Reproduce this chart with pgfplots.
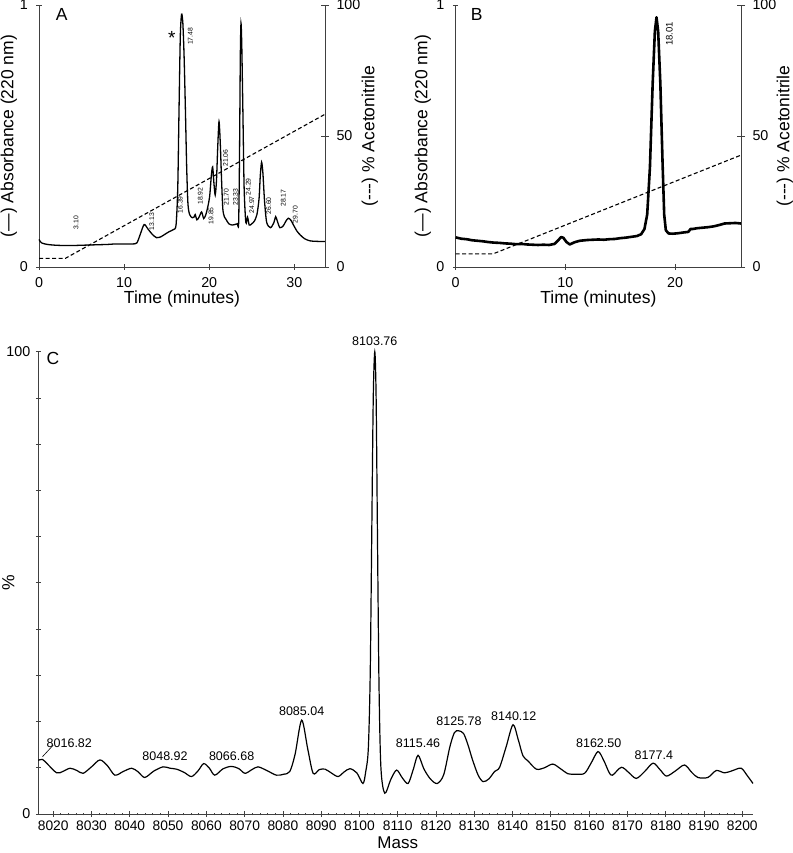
\documentclass[border=0pt]{standalone}
\usepackage{pgfplots}
\pgfplotsset{compat=1.18}
\usepackage{fontspec}
\setmainfont{Liberation Sans}
\pgfplotsset{
  mystyle/.style={scale only axis, clip=false, enlargelimits=false,
    tick align=inside, tick style={black!75, line width=0.8pt},
    major tick length=5.5pt, minor tick length=2.7pt,
    tick label style={font=\fontsize{14.3}{15}\selectfont},
    /pgf/number format/assume math mode=true},
  nolinearrows/.style={axis line style={-, line width=0.8pt, black!75},
    every outer x axis line/.append style={-}, every outer y axis line/.append style={-},
    every inner x axis line/.append style={-}, every inner y axis line/.append style={-}},
}
\newcommand{\lab}{\fontsize{17.5}{19}\selectfont}
\begin{document}
\begin{tikzpicture}
\useasboundingbox (0pt,0pt) rectangle (792pt,853pt);
% ---------------- Panel A ----------------
\begin{axis}[mystyle, at={(39pt,586pt)}, anchor=south west, width=286pt, height=262pt,
  xmin=0, xmax=33.6, ymin=0, ymax=1, axis x line=bottom, axis y line=left, nolinearrows,
  xtick={0,10,20,30}, ytick={0,1},
  xticklabel style={yshift=-4pt}, yticklabel style={xshift=-5pt}]
\addplot[black, line width=1.3pt, smooth, tension=0.45] coordinates {
(0,0.105) (0.3,0.092) (1,0.086) (2,0.083) (3,0.082) (4,0.082) (5,0.083) (6,0.084) (7,0.085) (8,0.086) (9,0.088) (10,0.088) (11,0.088)
(11.5,0.092) (11.9,0.125) (12.35,0.162) (12.8,0.145) (13.3,0.125) (13.8,0.112) (14.3,0.115) (14.8,0.125) (15.3,0.135) (15.8,0.143) (16.1,0.16)
(16.3,0.3) (16.45,0.6) (16.6,0.88) (16.75,0.965) (16.9,0.93) (17.05,0.8) (17.2,0.6) (17.35,0.38) (17.5,0.24) (17.7,0.2)
(18.0,0.188) (18.2,0.19) (18.35,0.2) (18.55,0.18) (18.8,0.19) (19.1,0.21) (19.35,0.185) (19.6,0.2) (19.8,0.225) (20.05,0.27)
(20.25,0.35) (20.4,0.382) (20.55,0.32) (20.7,0.275) (20.85,0.33) (21.0,0.46) (21.15,0.555) (21.3,0.47) (21.45,0.33) (21.6,0.22)
(21.8,0.19) (22.0,0.18) (22.3,0.165) (22.7,0.16) (23.0,0.162) (23.3,0.165) (23.45,0.165) (23.55,0.4) (23.65,0.8) (23.73,0.93)
(23.82,0.85) (23.95,0.6) (24.1,0.3) (24.3,0.17) (24.5,0.19) (24.7,0.16) (25.0,0.165) (25.3,0.175) (25.6,0.2) (25.85,0.26)
(26.0,0.35) (26.15,0.4) (26.3,0.36) (26.5,0.25) (26.75,0.17) (27.2,0.15) (27.6,0.17) (27.8,0.192) (28.0,0.175) (28.3,0.15)
(28.7,0.157) (29.0,0.175) (29.3,0.186) (29.6,0.178) (29.9,0.16) (30.3,0.137) (30.7,0.122) (31.2,0.108) (31.8,0.1) (32.5,0.098) (33.6,0.097)};
\node[font=\fontsize{17.5}{18}\selectfont] at (axis cs:2.67,0.962) {A};
\node[font=\fontsize{19}{19}\selectfont] at (axis cs:15.6,0.875) {*};
\begin{scope}[every node/.style={rotate=90, font=\fontsize{6.8}{7}\selectfont, inner sep=0pt}]
\node at (axis cs:4.35,0.17) {3.10};
\node at (axis cs:13.25,0.173) {13.13};
\node at (axis cs:16.6,0.237) {16.39};
\node at (axis cs:17.76,0.88) {17.48};
\node at (axis cs:18.94,0.27) {18.92};
\node at (axis cs:20.2,0.195) {19.85};
\node at (axis cs:21.9,0.416) {21.06};
\node at (axis cs:22.0,0.267) {21.70};
\node at (axis cs:23.1,0.267) {23.33};
\node at (axis cs:24.6,0.306) {24.29};
\node at (axis cs:25.0,0.237) {24.97};
\node at (axis cs:27.0,0.233) {26.60};
\node at (axis cs:28.7,0.263) {28.17};
\node at (axis cs:30.1,0.2) {29.70};
\end{scope}
\node[rotate=90, font=\lab] at (axis description cs:-0.105,0.5) {(—) Absorbance (220 nm)};
\node[font=\lab] at (axis description cs:0.5,-0.122) {Time (minutes)};
\end{axis}
\begin{axis}[mystyle, at={(39pt,586pt)}, anchor=south west, width=286pt, height=262pt,
  xmin=0, xmax=33.6, ymin=0, ymax=100, axis x line=none, axis y line=right, nolinearrows,
  ytick={0,50,100}, major tick length=8pt, yticklabel style={xshift=4pt}]
\addplot[black, line width=1.1pt, dash pattern=on 4pt off 2.5pt] coordinates {(0,3.3) (3.1,3.3) (33.6,58.3)};
\node[rotate=90, font=\lab] at (axis description cs:1.157,0.5) {(-{}-{}-) \% Acetonitrile};
\end{axis}
% ---------------- Panel B ----------------
\begin{axis}[mystyle, at={(455.7pt,586pt)}, anchor=south west, width=285.3pt, height=262pt,
  xmin=0, xmax=26, ymin=0, ymax=1, axis x line=bottom, axis y line=left, nolinearrows,
  xtick={0,10,20}, ytick={0,1},
  xticklabel style={yshift=-4pt}, yticklabel style={xshift=-5pt}]
\addplot[black, line width=2.6pt, line join=round] coordinates {
(0,0.113) (0.5,0.108) (1,0.106) (1.5,0.102) (2,0.1) (2.5,0.098) (3,0.095) (3.5,0.093) (4,0.092) (4.5,0.09) (5,0.089) (5.5,0.087)
(6,0.088) (6.5,0.086) (7,0.085) (7.5,0.084) (8,0.085) (8.5,0.084) (9,0.088) (9.3,0.1) (9.6,0.114) (9.8,0.112) (10.1,0.095) (10.4,0.086)
(10.8,0.094) (11.3,0.1) (12,0.103) (12.5,0.104) (13,0.105) (13.5,0.104) (14,0.106) (14.5,0.107) (15,0.11) (15.5,0.112) (16,0.115)
(16.5,0.118) (16.9,0.125) (17.2,0.145) (17.45,0.2) (17.7,0.38) (17.95,0.7) (18.15,0.9) (18.3,0.953) (18.45,0.9) (18.65,0.7)
(18.85,0.4) (19.0,0.2) (19.15,0.14) (19.4,0.128) (19.8,0.127) (20.3,0.129) (20.8,0.132) (21.2,0.134) (21.4,0.145) (21.6,0.145)
(22,0.148) (22.5,0.15) (23,0.152) (23.5,0.155) (24,0.16) (24.5,0.166) (25,0.167) (25.5,0.168) (26,0.166)};
\node[font=\fontsize{17.5}{18}\selectfont] at (axis cs:1.91,0.962) {B};
\node[rotate=90, font=\fontsize{9.5}{10}\selectfont] at (axis cs:19.47,0.89) {18.01};
\node[rotate=90, font=\lab] at (axis description cs:-0.115,0.5) {(—) Absorbance (220 nm)};
\node[font=\lab] at (axis description cs:0.5,-0.122) {Time (minutes)};
\end{axis}
\begin{axis}[mystyle, at={(455.7pt,586pt)}, anchor=south west, width=285.3pt, height=262pt,
  xmin=0, xmax=26, ymin=0, ymax=100, axis x line=none, axis y line=right, nolinearrows,
  ytick={0,50,100}, major tick length=8pt, yticklabel style={xshift=4pt}]
\addplot[black, line width=1.1pt, dash pattern=on 4pt off 2.5pt] coordinates {(0,5) (3.4,5) (26,42.7)};
\node[rotate=90, font=\lab] at (axis description cs:1.154,0.5) {(-{}-{}-) \% Acetonitrile};
\end{axis}
% ---------------- Panel C ----------------
\begin{axis}[mystyle, at={(38.3pt,39pt)}, anchor=south west, width=714.7pt, height=462.3pt,
  xmin=8016.1, xmax=8202.8, ymin=0, ymax=100, axis x line=bottom, axis y line=left, nolinearrows,
  xtick={8020,8030,...,8200}, minor x tick num=4,
  ytick={0,10,...,100}, yticklabels={0,,,,,,,,,,100},
  major tick length=5pt, minor tick length=2.6pt,
  xticklabel style={yshift=-1pt, font=\fontsize{13.8}{14}\selectfont, /pgf/number format/1000 sep={}},
  yticklabel style={xshift=-2pt}]
\addplot[black, line width=1.2pt, smooth, tension=0.5] coordinates {
(8016.1,11.6) (8017.2,11.8) (8018.5,10.8) (8020.9,8.9) (8022.5,9.2) (8024.4,9.9) (8026.2,9.4) (8027.8,8.8) (8030,10.2) (8032.2,11.7)
(8034.2,10.4) (8036.1,8.4) (8038.3,9.2) (8040.5,9.9) (8042.2,9.1) (8043.9,7.9) (8046.3,9.3) (8048.7,10.2) (8050.5,9.9) (8052.2,9.7)
(8054.2,9.0) (8056.1,8.1) (8057.8,9.3) (8059.3,10.9) (8060.8,9.9) (8062.2,8.4) (8064.4,9.8) (8066.6,10.3) (8068.5,9.8) (8070.1,8.8)
(8071.9,9.6) (8073.5,10.2) (8075.8,9.4) (8078.3,8.4) (8080.2,8.6) (8081.8,9.2) (8083.2,13) (8084.9,20.3) (8086.5,14) (8087.9,8.8)
(8089.5,9.6) (8091.0,9.7) (8092.6,8.9) (8094.4,8.1) (8096,9.1) (8097.5,9.8) (8099.3,8.9) (8100.9,6.6) (8101.6,9) (8102.3,14)
(8102.8,30) (8103.2,60) (8103.6,90) (8104.0,100) (8104.35,90) (8104.7,60) (8105.1,28) (8105.6,10) (8106.6,4.5) (8108.2,7.5)
(8109.7,9.5) (8111.2,7.8) (8112.7,6.6) (8114,9.5) (8115.3,12.7) (8116.8,9.8) (8118.5,7.6) (8120.3,6.6) (8122,8.5) (8123.6,14.5)
(8124.8,17.6) (8125.9,18.0) (8127.2,17.4) (8128.4,14.8) (8129.5,11.8) (8131,8.4) (8132.3,7.0) (8133.8,7.6) (8135.3,9.2) (8136.6,10.1)
(8138.3,14.5) (8140.1,19.3) (8141.5,16) (8142.7,12.6) (8144.0,11.5) (8146.2,9.7) (8148.3,10.0) (8150.5,10.8) (8152.5,9.8) (8154.5,8.7)
(8156.6,8.6) (8158.8,8.8) (8160.5,11) (8162.3,13.5) (8163.8,11.6) (8165.2,9.0) (8166.1,8.4) (8168.4,10.1) (8170.3,9.0) (8172.3,7.7)
(8174.5,9.2) (8176.7,11.0) (8178.5,9.6) (8180.2,8.2) (8182.5,9.3) (8184.9,10.6) (8186.8,9.0) (8188.4,7.9) (8191.0,7.9) (8193.2,9.4)
(8195.4,8.9) (8197.5,9.4) (8199.7,9.9) (8201.3,8.3) (8202.8,6.6)};
\draw[black, line width=0.6pt] (axis cs:8017.2,12.4) -- (axis cs:8020,14.9);
\begin{scope}[every node/.style={font=\fontsize{12.5}{13}\selectfont}]
\node at (axis cs:8024.2,15.4) {8016.82};
\node at (axis cs:8049.2,12.4) {8048.92};
\node at (axis cs:8066.6,12.4) {8066.68};
\node at (axis cs:8084.9,22.3) {8085.04};
\node at (axis cs:8104,102.2) {8103.76};
\node at (axis cs:8115.3,15.3) {8115.46};
\node at (axis cs:8126.0,20.0) {8125.78};
\node at (axis cs:8140.3,21.2) {8140.12};
\node at (axis cs:8162.5,15.3) {8162.50};
\node at (axis cs:8176.9,12.8) {8177.4};
\end{scope}
\node[font=\fontsize{17.5}{18}\selectfont] at (axis cs:8019.9,98.5) {C};
\node[rotate=90, font=\lab] at (axis description cs:-0.042,0.5) {\%};
\node[font=\fontsize{17}{18}\selectfont, inner sep=0.5pt] at (axis description cs:0.503,-0.063) {Mass};
\end{axis}
\end{tikzpicture}
\end{document}
